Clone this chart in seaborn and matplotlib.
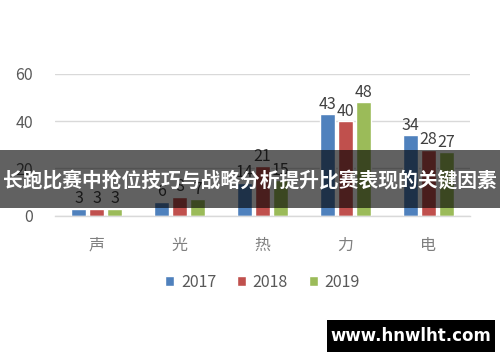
import matplotlib
matplotlib.use("Agg")
import matplotlib.pyplot as plt
from matplotlib.patches import Rectangle
import seaborn as sns
import pandas as pd

categories = ["声", "光", "热", "力", "电"]
years = ["2017", "2018", "2019"]
v2017 = [3, 6, 14, 43, 34]
v2018 = [3, 8, 21, 40, 28]
v2019 = [3, 7, 15, 48, 27]
yticks = [0, 20, 40, 60]
banner_title = "长跑比赛中抢位技巧与战略分析提升比赛表现的关键因素"
watermark = "www.hnwlht.com"

colors = ["#4F81BD", "#C0504D", "#9BBB59"]

rows = []
for yr, vals in zip(years, [v2017, v2018, v2019]):
    for c, v in zip(categories, vals):
        rows.append({"cat": c, "year": yr, "value": v})
df = pd.DataFrame(rows)

sns.set_theme(style="white")
plt.rcParams["font.family"] = ["Noto Sans CJK SC", "DejaVu Sans"]

fig = plt.figure(figsize=(5.0, 3.62), dpi=100)
ax = fig.add_axes([0.11, 0.404, 0.83, 0.392])

sns.barplot(data=df, x="cat", y="value", hue="year", order=categories,
            hue_order=years, palette=colors, width=0.65, gap=0.17,
            saturation=1, ax=ax, legend=True)

ax.set_ylim(0, 60)
ax.set_yticks(yticks)
ax.set_xlim(-0.5, len(categories) - 0.5)
ax.yaxis.grid(True, color="#d9d9d9", linewidth=1)
ax.set_axisbelow(True)
for s in ["top", "right", "left"]:
    ax.spines[s].set_visible(False)
ax.spines["bottom"].set_color("#d9d9d9")
ax.spines["bottom"].set_linewidth(1)
ax.tick_params(axis="both", length=0)
ax.tick_params(axis="y", pad=16, labelsize=11.5, labelcolor="#595959")
ax.tick_params(axis="x", pad=15, labelsize=11.5, labelcolor="#7f7f7f")
ax.set_xlabel("")
ax.set_ylabel("")

for cont in ax.containers:
    ax.bar_label(cont, padding=1, fontsize=11.5, color="#404040")

h, l = ax.get_legend_handles_labels()
ax.legend(h, l, loc="center", bbox_to_anchor=(0.5, -0.47), ncol=3,
          frameon=False, fontsize=11.5, handlelength=0.6, handleheight=0.6,
          handletextpad=0.4, columnspacing=1.3, labelcolor="#595959")

# overlay banner
fig.patches.append(Rectangle((0, 1 - 208 / 362), 1, 58 / 362,
                             transform=fig.transFigure, facecolor="black",
                             alpha=0.62, zorder=10, edgecolor="none"))
fig.text(0.5, 1 - 181 / 362, banner_title, ha="center", va="center",
         color="white", fontsize=14.2, fontweight="bold", zorder=11)

# watermark box
fig.patches.append(Rectangle((327 / 500, 1 - 352 / 362), 168 / 500, 32 / 362,
                             transform=fig.transFigure, facecolor="black",
                             zorder=10, edgecolor="none"))
fig.text(411 / 500, 1 - 336 / 362, watermark, ha="center", va="center",
         color="white", fontsize=12, fontweight="bold", zorder=11,
         family="DejaVu Sans")

fig.savefig("out.png", dpi=100, facecolor="white")
